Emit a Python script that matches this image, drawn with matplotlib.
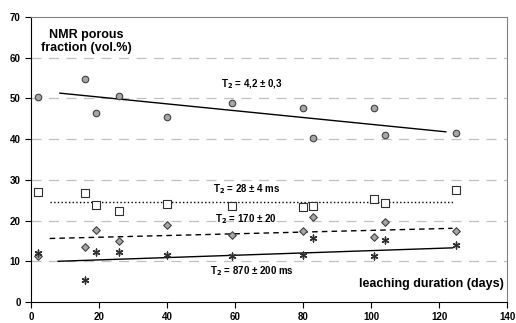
import matplotlib.pyplot as plt

plt.rcParams['font.family'] = ['Liberation Sans', 'DejaVu Sans']
plt.rcParams['font.weight'] = 'bold'

# leaching duration (days)
days = [2, 16, 19, 26, 40, 59, 80, 83, 101, 104, 125]

# NMR porous fraction (vol.%) per T2 population
t2_4 = [50.3, 54.7, 46.5, 50.5, 45.5, 49.0, 47.7, 40.4, 47.6, 41.0, 41.4]
t2_28 = [27.0, 26.7, 23.8, 22.4, 24.1, 23.7, 23.4, 23.5, 25.4, 24.3, 27.4]
t2_170 = [11.2, 13.6, 17.8, 15.0, 19.0, 16.5, 17.5, 20.8, 16.0, 19.7, 17.4]
t2_870 = [12.0, 5.3, 12.2, 12.4, 11.6, 11.2, 11.5, 15.6, 11.3, 15.3, 13.9]

# trend lines (start, end)
fit_4_x, fit_4_y = [8.5, 122], [51.3, 41.8]
fit_28_x, fit_28_y = [5.5, 124], [24.5, 24.5]
fit_170_x, fit_170_y = [5.5, 124], [15.6, 18.1]
fit_870_x, fit_870_y = [8, 124], [10.0, 13.3]

fig, ax = plt.subplots(figsize=(5.16, 3.23), dpi=100)
fig.subplots_adjust(left=31/516, right=507/516, top=1-17/323, bottom=1-302/323)

for y in range(10, 70, 10):
    ax.axhline(y, color='#c0c0c0', lw=0.9, dashes=(8, 6), zorder=0)

ax.plot(fit_4_x, fit_4_y, color='black', lw=1.0, zorder=2)
ax.plot(fit_28_x, fit_28_y, color='black', lw=1.0, ls=':', zorder=2)
ax.plot(fit_170_x, fit_170_y, color='black', lw=1.0, dashes=(4, 3), zorder=2)
ax.plot(fit_870_x, fit_870_y, color='black', lw=1.0, zorder=2)

ax.scatter(days, t2_4, s=22, marker='o', facecolor='#a6a6a6', edgecolor='#404040', lw=0.8, zorder=3)
ax.scatter(days, t2_28, s=36, marker='s', facecolor='white', edgecolor='#303030', lw=0.8, zorder=3)
ax.scatter(days, t2_170, s=15, marker='D', facecolor='#a6a6a6', edgecolor='#404040', lw=0.8, zorder=3)
ax.scatter(days, t2_870, s=24, marker=(6, 2, 0), color='#303030', lw=1.0, zorder=3)

ax.text(56, 53.6, 'T$_\\mathbf{2}$ = 4,2 ± 0,3', fontsize=7, fontweight='bold', va='center')
ax.text(53.5, 27.8, 'T$_\\mathbf{2}$ = 28 ± 4 ms', fontsize=7, fontweight='bold', va='center')
ax.text(54, 20.3, 'T$_\\mathbf{2}$ = 170 ± 20', fontsize=7, fontweight='bold', va='center')
ax.text(52.5, 7.7, 'T$_\\mathbf{2}$ = 870 ± 200 ms', fontsize=7, fontweight='bold', va='center')
ax.text(139, 4.3, 'leaching duration (days)', fontsize=9, fontweight='bold', va='center', ha='right')
ax.text(16.3, 64, 'NMR porous\nfraction (vol.%)', fontsize=9, fontweight='bold',
        va='center', ha='center', linespacing=1.2)

ax.set_xlim(0, 140)
ax.set_ylim(0, 70)
ax.set_xticks(range(0, 141, 20))
ax.set_yticks(range(0, 71, 10))
ax.tick_params(labelsize=7, length=4, width=0.8, direction='out')
for lab in ax.get_xticklabels() + ax.get_yticklabels():
    lab.set_fontweight('bold')

ax.spines['left'].set_color('black')
ax.spines['bottom'].set_color('black')
ax.spines['top'].set_color('#808080')
ax.spines['right'].set_color('#808080')

plt.savefig('out.png', dpi=100)
